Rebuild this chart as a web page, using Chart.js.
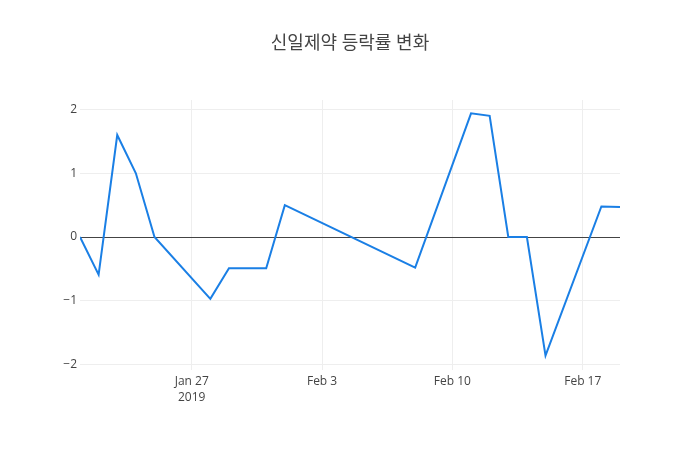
<!DOCTYPE html>
<html>
<head>
<meta charset="utf-8">
<script src="https://cdn.jsdelivr.net/npm/chart.js@4"></script>
<style>
  html, body { margin: 0; padding: 0; background: #fff; }
  #wrap { width: 700px; height: 450px; }
</style>
</head>
<body>
<div id="wrap"><canvas id="c" width="700" height="450"></canvas></div>
<script>
const title = '신일제약 등락률 변화';
const dates = ['2019-01-21','2019-01-22','2019-01-23','2019-01-24','2019-01-25',
               '2019-01-28','2019-01-29','2019-01-30','2019-01-31','2019-02-01',
               '2019-02-08','2019-02-11','2019-02-12','2019-02-13','2019-02-14',
               '2019-02-15','2019-02-18','2019-02-19'];
const changes = [0, -0.59, 1.6, 1.0, 0,
                 -0.97, -0.49, -0.49, -0.49, 0.5,
                 -0.48, 1.94, 1.90, 0, 0,
                 -1.86, 0.48, 0.47];
const xTickDates = ['2019-01-27','2019-02-03','2019-02-10','2019-02-17'];
const xTickLabels = [['Jan 27','2019'], ['Feb 3'], ['Feb 10'], ['Feb 17']];
const yTicks = [-2, -1, 0, 1, 2];

const DAY = 86400000;
function dayNum(s) {
  const p = s.split('-').map(Number);
  return Date.UTC(p[0], p[1] - 1, p[2]) / DAY;
}
const points = dates.map((d, i) => ({ x: dayNum(d), y: changes[i] }));
const xTickVals = xTickDates.map(dayNum);

const FONT = "'Open Sans', 'Noto Sans CJK KR', sans-serif";

new Chart(document.getElementById('c'), {
  type: 'line',
  data: {
    datasets: [{
      data: points,
      borderColor: 'rgb(26,127,229)',
      borderWidth: 2,
      pointRadius: 0,
      tension: 0,
      fill: false
    }]
  },
  options: {
    responsive: false,
    animation: false,
    devicePixelRatio: 1,
    layout: { padding: 0 },
    plugins: {
      legend: { display: false },
      tooltip: { enabled: false },
      title: {
        display: true,
        text: title,
        color: '#444',
        font: { family: FONT, size: 18, weight: 'normal' },
        padding: { top: 33, bottom: 45.4 }
      }
    },
    scales: {
      x: {
        type: 'linear',
        min: dayNum(dates[0]),
        max: dayNum(dates[dates.length - 1]),
        afterBuildTicks: (s) => { s.ticks = xTickVals.map(v => ({ value: v })); },
        afterFit: (s) => { s.height = 80; },
        border: { display: false },
        grid: { color: '#eee', lineWidth: 1, drawTicks: false },
        ticks: {
          color: '#444',
          font: { family: FONT, size: 12, lineHeight: 1.35 },
          padding: 3,
          maxRotation: 0,
          autoSkip: false,
          callback: (v) => {
            const i = xTickVals.indexOf(v);
            return i >= 0 ? xTickLabels[i] : '';
          }
        }
      },
      y: {
        type: 'linear',
        min: -2.086,
        max: 2.149,
        afterBuildTicks: (s) => { s.ticks = yTicks.map(v => ({ value: v })); },
        afterFit: (s) => { s.width = 80; },
        border: { display: false },
        grid: {
          color: (ctx) => (ctx.tick && ctx.tick.value === 0) ? '#444' : '#eee',
          lineWidth: 1,
          drawTicks: false
        },
        ticks: {
          color: '#444',
          font: { family: FONT, size: 12 },
          padding: 3,
          callback: (v) => String(v).replace('-', '\u2212')
        }
      },
      yRight: {
        type: 'linear',
        position: 'right',
        display: true,
        min: -2.086,
        max: 2.149,
        afterFit: (s) => { s.width = 80; },
        border: { display: false },
        grid: { display: false, drawTicks: false },
        ticks: { display: false }
      }
    }
  }
});
</script>
</body>
</html>
